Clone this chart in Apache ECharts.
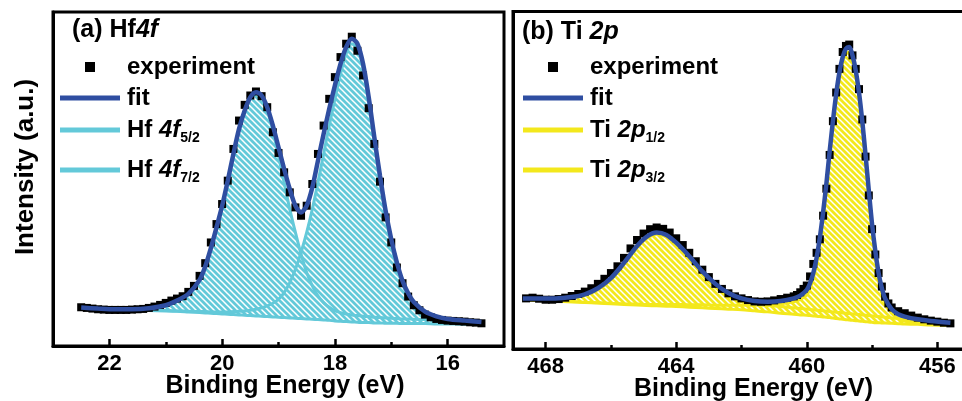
<!DOCTYPE html>
<html>
<head>
<meta charset="utf-8">
<script src="https://cdn.jsdelivr.net/npm/echarts@6/dist/echarts.min.js"></script>
<style>
  html, body { margin: 0; padding: 0; background: #fff; }
  #xps { width: 962px; height: 401px; }
</style>
</head>
<body>
<div id="xps"></div>
<script>
// ---- (a) Hf 4f ----
var leftExpX = [22.5, 22.4, 22.3, 22.2, 22.1, 22.0, 21.9, 21.8, 21.7, 21.6, 21.5, 21.4, 21.3, 21.2, 21.1, 21.0,
  20.9, 20.8, 20.7, 20.6, 20.5, 20.4, 20.3, 20.2, 20.1, 20.0, 19.9, 19.8, 19.7, 19.6, 19.5, 19.4, 19.3, 19.2, 19.1, 19.0,
  18.9, 18.8, 18.7, 18.6, 18.5, 18.4, 18.3, 18.2, 18.1, 18.0, 17.9, 17.8, 17.7, 17.6, 17.5, 17.4, 17.3, 17.2, 17.1, 17.0,
  16.9, 16.8, 16.7, 16.6, 16.5, 16.4, 16.3, 16.2, 16.1, 16.0, 15.9, 15.8, 15.7, 15.6, 15.5, 15.4]
var leftExpY = [11.6, 11.4, 11.2, 11.0, 10.9, 10.8, 10.8, 10.8, 10.8, 10.9, 11.0, 11.1, 11.4, 11.8, 12.3, 12.9,
  13.6, 14.2, 14.9, 16.2, 18.0, 21.0, 24.8, 31.0, 36.5, 42.5, 49.5, 59.0, 67.5, 72.2, 75.0, 76.2, 74.8, 71.5, 64.0, 57.8,
  52.0, 46.0, 41.5, 39.0, 42.0, 48.5, 57.5, 66.0, 74.0, 80.5, 86.5, 90.5, 92.6, 88.4, 81.0, 71.2, 60.5, 49.2, 38.5, 31.0,
  23.5, 18.8, 14.8, 12.2, 10.7, 9.4, 8.6, 8.1, 7.8, 7.6, 7.5, 7.4, 7.3, 7.1, 7.0, 6.8]

var leftModelX = [22.5, 22.2, 21.9, 21.6, 21.3, 21.0, 20.8, 20.6,
  20.4, 20.3, 20.2, 20.1, 20.0, 19.9, 19.8, 19.7, 19.6, 19.5, 19.4, 19.3, 19.2, 19.1, 19.0, 18.9, 18.8, 18.7, 18.6,
  18.5, 18.4, 18.3, 18.2, 18.1, 18.0, 17.9, 17.8, 17.7, 17.6, 17.5, 17.4, 17.3, 17.2, 17.1, 17.0, 16.9, 16.8, 16.7, 16.6,
  16.4, 16.2, 16.0, 15.7, 15.4]
var leftFit = [11.5, 11.2, 11.0, 11.0, 11.3, 12.2, 13.6, 15.6,
  19.8, 23.8, 29.3, 35.5, 42.0, 49.5, 57.5, 65.0, 70.5, 74.5, 76.0, 75.0, 71.5, 66.0, 59.5, 53.0, 47.0, 42.0, 40.0,
  42.0, 47.5, 55.5, 63.5, 71.0, 78.0, 84.5, 89.5, 92.0, 90.5, 84.5, 74.5, 62.5, 51.0, 40.5, 32.0, 25.0, 19.5, 15.8, 13.2,
  10.3, 8.9, 8.1, 7.6, 7.2]
var leftBg = [11.0, 10.9, 10.8, 10.7, 10.6, 10.5, 10.4, 10.2,
  10.0, 9.9, 9.8, 9.7, 9.6, 9.5, 9.4, 9.3, 9.2, 9.1, 9.0, 8.9, 8.8, 8.7, 8.6, 8.5, 8.4, 8.3, 8.2,
  8.1, 8.0, 7.9, 7.8, 7.7, 7.5, 7.4, 7.3, 7.2, 7.1, 7.0, 7.0, 6.9, 6.9, 6.8, 6.8, 6.8, 6.7, 6.7, 6.7,
  6.7, 6.6, 6.6, 6.5, 6.5]
var leftHf52 = [11.2, 11.0, 10.9, 10.9, 11.2, 12.0, 13.3, 15.3,
  19.5, 23.5, 29.0, 35.0, 41.5, 49.0, 57.0, 64.5, 70.0, 74.0, 75.5, 74.5, 70.5, 64.5, 57.0, 49.0, 41.0, 34.0, 27.5,
  22.0, 18.0, 15.0, 13.0, 11.6, 10.6, 10.0, 9.6, 9.3, 9.1, 8.9, 8.8, 8.6, 8.5, 8.4, 8.3, 8.2, 8.1, 8.1, 8.0,
  7.9, 7.8, 7.6, 7.5, 7.4]
var leftHf72 = [11.0, 10.9, 10.8, 10.7, 10.7, 10.6, 10.5, 10.4,
  10.3, 10.3, 10.2, 10.2, 10.2, 10.2, 10.3, 10.4, 10.5, 10.7, 11.0, 11.4, 12.0, 12.8, 14.0, 16.0, 19.0, 23.0, 28.0,
  34.0, 41.0, 49.0, 57.5, 66.0, 74.0, 81.5, 87.5, 90.5, 89.0, 83.0, 73.0, 61.0, 49.5, 39.0, 30.5, 23.5, 18.5, 15.0, 12.5,
  9.8, 8.5, 7.8, 7.3, 7.0]

// ---- (b) Ti 2p ----
var rightExpX = [468.6, 468.4, 468.2, 468.0, 467.8, 467.6, 467.4, 467.2, 467.0, 466.8, 466.6, 466.4, 466.2, 466.0,
  465.8, 465.6, 465.4, 465.2, 465.0, 464.8, 464.6, 464.4, 464.2, 464.0, 463.8, 463.6, 463.4, 463.2, 463.0, 462.8,
  462.6, 462.4, 462.2, 462.0, 461.8, 461.6, 461.4, 461.2, 461.0, 460.8, 460.6,
  460.4, 460.3, 460.2, 460.1, 460.0, 459.9, 459.8, 459.7, 459.6, 459.5, 459.4, 459.3, 459.2, 459.1, 459.0,
  458.9, 458.8, 458.7, 458.6, 458.5, 458.4, 458.3, 458.2, 458.1, 458.0, 457.9, 457.8, 457.7, 457.6, 457.5, 457.4,
  457.2, 457.0, 456.8, 456.6, 456.4, 456.2, 456.0, 455.8, 455.6]
var rightExpY = [15.0, 15.2, 14.9, 14.6, 14.6, 14.8, 15.2, 15.7, 16.3, 17.0, 18.0, 19.3, 20.8, 22.5,
  24.5, 27.0, 29.8, 32.3, 34.2, 35.5, 36.0, 35.6, 34.5, 32.8, 30.8, 28.5, 26.0, 23.5, 21.3, 19.3,
  17.8, 16.5, 15.6, 15.0, 14.5, 14.1, 14.0, 14.1, 14.4, 14.8, 15.2,
  15.6, 16.0, 16.8, 17.8, 18.8, 21.5, 25.2, 28.5, 32.5, 39.5, 47.5, 57.5, 67.5, 76.0, 83.0,
  88.0, 89.8, 90.2, 87.0, 83.0, 77.0, 68.0, 57.0, 45.5, 35.5, 28.0, 22.5, 18.5, 15.5, 13.5, 12.3,
  11.2, 10.6, 9.9, 9.3, 8.8, 8.4, 8.1, 7.8, 7.6]

var rightModelX = [468.7, 468.2, 467.7, 467.2, 466.8, 466.4, 466.0, 465.6, 465.2, 464.9, 464.6, 464.3, 464.0,
  463.6, 463.2, 462.8, 462.4, 462.0, 461.6, 461.2, 460.8, 460.4, 460.2, 460.0,
  459.9, 459.8, 459.7, 459.6, 459.5, 459.4, 459.3, 459.2, 459.1, 459.0, 458.9, 458.8, 458.7, 458.6, 458.5,
  458.4, 458.3, 458.2, 458.1, 458.0, 457.9, 457.8, 457.7, 457.6,
  457.4, 457.2, 457.0, 456.6, 456.2, 455.6]
var rightFit = [15.0, 15.0, 15.0, 15.4, 16.2, 18.0, 21.0, 25.5, 30.5, 33.3, 34.5, 33.8, 31.5,
  27.5, 23.0, 19.3, 16.6, 15.0, 14.2, 14.0, 14.2, 15.0, 15.8, 17.5,
  19.5, 22.5, 27.0, 33.0, 40.5, 49.0, 58.5, 67.5, 75.5, 82.0, 86.5, 89.0, 89.5, 87.0, 82.5,
  76.0, 67.5, 57.5, 47.0, 37.0, 29.0, 22.5, 18.0, 15.0,
  11.8, 10.3, 9.6, 8.8, 8.3, 7.8]
var rightBg = [14.6, 14.4, 14.2, 14.0, 13.8, 13.6, 13.4, 13.2, 13.0, 12.9, 12.8, 12.7, 12.6,
  12.4, 12.2, 12.0, 11.8, 11.6, 11.3, 11.0, 10.6, 10.3, 10.1, 10.0,
  9.9, 9.8, 9.7, 9.6, 9.5, 9.4, 9.3, 9.2, 9.0, 8.9, 8.8, 8.7, 8.6, 8.5, 8.4,
  8.3, 8.2, 8.1, 8.0, 7.9, 7.8, 7.8, 7.7, 7.7,
  7.6, 7.5, 7.4, 7.3, 7.1, 7.0]
var rightTi12 = [14.8, 14.8, 14.8, 15.1, 15.9, 17.6, 20.5, 25.0, 30.0, 32.8, 34.0, 33.2, 30.8,
  26.7, 22.0, 18.3, 15.6, 14.0, 13.3, 12.9, 12.6, 12.2, 12.0, 11.8,
  11.7, 11.6, 11.5, 11.4, 11.3, 11.2, 11.1, 11.0, 10.9, 10.8, 10.7, 10.6, 10.5, 10.4, 10.3,
  10.2, 10.1, 10.0, 9.9, 9.8, 9.7, 9.6, 9.5, 9.4,
  9.2, 9.0, 8.8, 8.4, 8.0, 7.6]
var rightTi32 = [14.6, 14.4, 14.2, 14.0, 13.8, 13.7, 13.5, 13.4, 13.3, 13.2, 13.2, 13.2, 13.2,
  13.1, 13.1, 13.0, 13.0, 13.0, 13.0, 13.1, 13.4, 14.0, 14.7, 16.0,
  18.0, 21.0, 25.5, 31.5, 39.0, 47.5, 57.0, 66.0, 74.0, 80.5, 85.0, 87.5, 88.0, 85.5, 81.0,
  74.5, 66.0, 56.0, 45.5, 35.5, 27.5, 21.0, 16.5, 13.6,
  10.5, 9.0, 8.3, 7.7, 7.3, 7.1]

var leftMajor = [16, 18, 20, 22]
var leftMinor = [17, 19, 21]
var rightMajor = [456, 460, 464, 468]
var rightMinor = [458, 462, 466]

var FONT = '"Liberation Sans", Arial, sans-serif'
var BLUE = '#2f4ea1'
var CYAN = '#63c9d9'
var YELLOW = '#f3e81c'

// diagonal white hatching on a coloured fill
function hatch(color) {
  var c = document.createElement('canvas')
  c.width = 6
  c.height = 6
  var g = c.getContext('2d')
  g.fillStyle = color
  g.fillRect(0, 0, 6, 6)
  g.strokeStyle = '#ffffff'
  g.lineWidth = 1.5
  g.beginPath()
  g.moveTo(-1, -1); g.lineTo(7, 7)
  g.moveTo(-1, 5); g.lineTo(1, 7)
  g.moveTo(5, -1); g.lineTo(7, 1)
  g.stroke()
  return c
}

function pairs(xs, ys) {
  return xs.map(function (x, i) { return [x, ys[i]] })
}

// hatched band between a component and its background
function band(xi, yi, xs, upper, lower, color) {
  var img = hatch(color)
  return {
    type: 'custom', xAxisIndex: xi, yAxisIndex: yi, silent: true, z: 2,
    data: [[xs[0], upper[0]]],
    renderItem: function (params, api) {
      var top = xs.map(function (x, i) { return api.coord([x, upper[i]]) })
      var bot = xs.map(function (x, i) { return api.coord([x, lower[i]]) }).reverse()
      return {
        type: 'polygon',
        shape: { points: top.concat(bot) },
        style: { fill: { image: img, repeat: 'repeat' }, stroke: null }
      }
    }
  }
}

function curve(name, xi, yi, xs, ys, color, width, z) {
  return {
    type: 'line', name: name, xAxisIndex: xi, yAxisIndex: yi, data: pairs(xs, ys),
    symbol: 'none', smooth: 0.3, silent: true, z: z,
    itemStyle: { color: color }, lineStyle: { color: color, width: width }
  }
}

var labels = {
  'a-exp': 'experiment',
  'a-fit': 'fit',
  'a-c1': '{t|Hf }{i|4f}{s|5/2}',
  'a-c2': '{t|Hf }{i|4f}{s|7/2}',
  'b-exp': 'experiment',
  'b-fit': 'fit',
  'b-c1': '{t|Ti }{i|2p}{s|1/2}',
  'b-c2': '{t|Ti }{i|2p}{s|3/2}'
}
var rich = {
  t: { fontFamily: FONT, fontWeight: 'bold', fontSize: 24, color: '#000' },
  i: { fontFamily: FONT, fontWeight: 'bold', fontStyle: 'italic', fontSize: 24, color: '#000' },
  s: { fontFamily: FONT, fontWeight: 'bold', fontSize: 14, color: '#000', padding: [16, 0, 0, 0] }
}

function legendItem(name, left, cy, isExp) {
  return {
    data: [{ name: name, icon: 'rect' }],
    left: left, top: cy - 15, padding: 0,
    itemWidth: isExp ? 10 : 60, itemHeight: isExp ? 10 : 5,
    selectedMode: false,
    formatter: function (n) { return labels[n] },
    textStyle: {
      fontFamily: FONT, fontWeight: 'bold', fontSize: 24, color: '#000', lineHeight: 30,
      padding: isExp ? [0, 0, 0, 27] : [0, 0, 0, 2], rich: rich
    }
  }
}

function mainX(grid, min, max, ticks, namePad) {
  return {
    gridIndex: grid, type: 'value', min: min, max: max, inverse: true, position: 'bottom',
    axisLine: { lineStyle: { color: '#000', width: 3 } },
    axisTick: { inside: true, length: 7, customValues: ticks, lineStyle: { color: '#000', width: 2.5 } },
    axisLabel: { customValues: ticks, fontFamily: FONT, fontWeight: 'bold', fontSize: 22, color: '#000', margin: 7 },
    splitLine: { show: false },
    name: 'Binding Energy (eV)', nameLocation: 'middle', nameGap: 28, nameMoveOverlap: false,
    nameTextStyle: { fontFamily: FONT, fontWeight: 'bold', fontSize: 25, color: '#000', padding: [0, 0, 0, namePad] }
  }
}
function minorX(grid, min, max, ticks) {
  return {
    gridIndex: grid, type: 'value', min: min, max: max, inverse: true, position: 'bottom',
    axisLine: { show: false },
    axisTick: { inside: true, length: 4, customValues: ticks, lineStyle: { color: '#000', width: 2.5 } },
    axisLabel: { show: false },
    splitLine: { show: false }
  }
}

var chart = echarts.init(document.getElementById('xps'))

var series = [
  band(0, 0, leftModelX, leftHf52, leftBg, CYAN),
  band(0, 0, leftModelX, leftHf72, leftBg, CYAN),
  band(2, 1, rightModelX, rightTi12, rightBg, YELLOW),
  band(2, 1, rightModelX, rightTi32, rightBg, YELLOW),
  curve(null, 0, 0, leftModelX, leftBg, CYAN, 3, 2),
  curve('a-c1', 0, 0, leftModelX, leftHf52, CYAN, 3, 2),
  curve('a-c2', 0, 0, leftModelX, leftHf72, CYAN, 3, 2),
  curve(null, 2, 1, rightModelX, rightBg, YELLOW, 3, 2),
  curve('b-c1', 2, 1, rightModelX, rightTi12, YELLOW, 3, 2),
  curve('b-c2', 2, 1, rightModelX, rightTi32, YELLOW, 3, 2),
  { type: 'scatter', name: 'a-exp', xAxisIndex: 0, yAxisIndex: 0, data: pairs(leftExpX, leftExpY),
    symbol: 'rect', symbolSize: 8, itemStyle: { color: '#000', opacity: 1 }, z: 3, silent: true },
  { type: 'scatter', name: 'b-exp', xAxisIndex: 2, yAxisIndex: 1, data: pairs(rightExpX, rightExpY),
    symbol: 'rect', symbolSize: 8, itemStyle: { color: '#000', opacity: 1 }, z: 3, silent: true },
  curve('a-fit', 0, 0, leftModelX, leftFit, BLUE, 4.5, 4),
  curve('b-fit', 2, 1, rightModelX, rightFit, BLUE, 4.5, 4)
]

var titleRich = {
  n: { fontFamily: FONT, fontWeight: 'bold', fontSize: 25, color: '#000', lineHeight: 30 },
  i: { fontFamily: FONT, fontWeight: 'bold', fontStyle: 'italic', fontSize: 25, color: '#000', lineHeight: 30 }
}

var option = {
  animation: false,
  backgroundColor: '#fff',
  title: [
    { text: '{n|(a) Hf}{i|4f}', left: 72, top: 15, padding: 0, textStyle: { rich: titleRich } },
    { text: '{n|(b) Ti }{i|2p}', left: 522, top: 17, padding: 0, textStyle: { rich: titleRich } }
  ],
  legend: [
    legendItem('a-exp', 85, 67, true),
    legendItem('a-fit', 60, 98, false),
    legendItem('a-c1', 60, 130, false),
    legendItem('a-c2', 60, 170, false),
    legendItem('b-exp', 548, 67, true),
    legendItem('b-fit', 523, 98, false),
    legendItem('b-c1', 523, 130, false),
    legendItem('b-c2', 523, 170, false)
  ],
  grid: [
    { left: 53, right: 458, top: 12, bottom: 55, outerBoundsMode: 'none',
      show: true, borderColor: '#000', borderWidth: 3 },
    { left: 513, right: -8, top: 11.5, bottom: 52, outerBoundsMode: 'none',
      show: true, borderColor: '#000', borderWidth: 3 }
  ],
  xAxis: [
    mainX(0, 15, 23, leftMajor, 13),
    minorX(0, 15, 23, leftMinor),
    mainX(1, 455, 469, rightMajor, 24),
    minorX(1, 455, 469, rightMinor)
  ],
  yAxis: [
    { gridIndex: 0, type: 'value', min: 0, max: 100,
      axisLine: { show: true, lineStyle: { color: '#000', width: 3 } }, axisTick: { show: false },
      axisLabel: { show: false }, splitLine: { show: false },
      name: 'Intensity (a.u.)', nameLocation: 'middle', nameRotate: 90, nameGap: 14,
      nameTextStyle: { fontFamily: FONT, fontWeight: 'bold', fontSize: 26, color: '#000', padding: [0, 0, 0, 24] } },
    { gridIndex: 1, type: 'value', min: 0, max: 100,
      axisLine: { show: true, lineStyle: { color: '#000', width: 3 } }, axisTick: { show: false },
      axisLabel: { show: false }, splitLine: { show: false } }
  ],
  series: series
}
chart.setOption(option)
</script>
</body>
</html>
